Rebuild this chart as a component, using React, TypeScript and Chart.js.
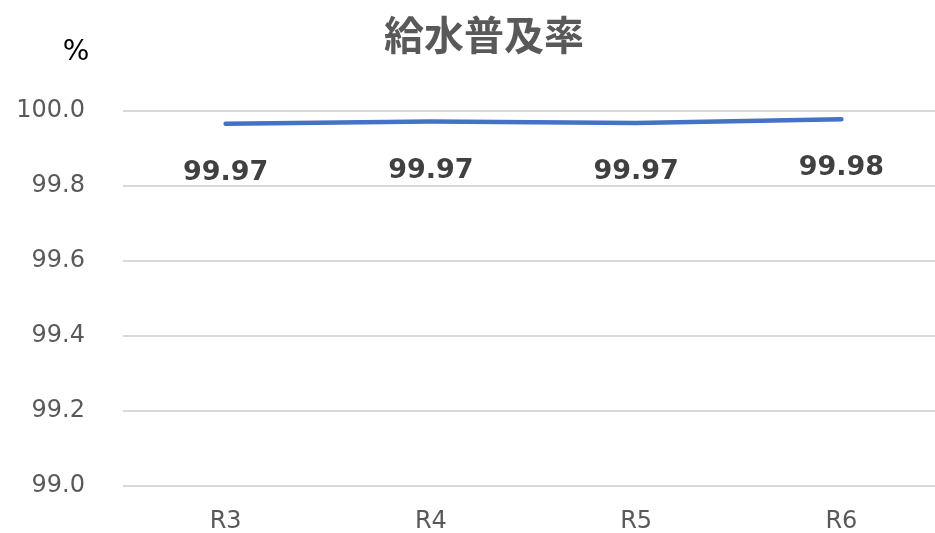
import React, { useEffect, useRef } from "react";
import { Chart, registerables } from "chart.js";

Chart.register(...registerables);

const categories = ["R3", "R4", "R5", "R6"];
const rates = [99.966, 99.972, 99.968, 99.978];
const yTicks = [99.0, 99.2, 99.4, 99.6, 99.8, 100.0];
const chartTitle = "給水普及率";
const unitLabel = "%";

const labelPlugin = {
  id: "valueLabels",
  afterDatasetsDraw(chart: any) {
    const ctx = chart.ctx;
    const meta = chart.getDatasetMeta(0);
    ctx.save();
    ctx.font = "bold 27px 'DejaVu Sans', sans-serif";
    ctx.fillStyle = "#404040";
    ctx.textAlign = "center";
    ctx.textBaseline = "middle";
    meta.data.forEach((pt: any, i: number) => {
      ctx.fillText(rates[i].toFixed(2), pt.x, pt.y + 49);
    });
    ctx.font = "28px 'DejaVu Sans', sans-serif";
    ctx.fillStyle = "#000000";
    ctx.fillText(unitLabel, 76, 53);
    ctx.font = "bold 40px 'Noto Sans CJK JP', sans-serif";
    ctx.fillStyle = "#595959";
    ctx.fillText(chartTitle, 484, 35);
    ctx.restore();
  },
};

export default function App() {
  const ref = useRef<HTMLCanvasElement | null>(null);
  useEffect(() => {
    document.body.style.margin = "0";
    if (!ref.current) return;
    const chart = new Chart(ref.current, {
      type: "line",
      data: {
        labels: categories,
        datasets: [
          {
            data: rates,
            borderColor: "#4472C4",
            borderWidth: 4.5,
            borderCapStyle: "round",
            pointRadius: 0,
            tension: 0,
          },
        ],
      },
      options: {
        animation: false,
        responsive: false,
        maintainAspectRatio: false,
        layout: { padding: { left: 0, right: 0, top: 111, bottom: 0 } },
        plugins: {
          legend: { display: false },
          tooltip: { enabled: false },
          title: { display: false },
        },
        scales: {
          x: {
            offset: true,
            grid: { display: false, drawTicks: false },
            border: { display: false },
            ticks: {
              color: "#595959",
              font: { family: "'DejaVu Sans', sans-serif", size: 24, lineHeight: 1 },
              padding: 24,
              maxRotation: 0,
            },
          },
          y: {
            min: 99,
            max: 100,
            afterBuildTicks: (scale: any) => {
              scale.ticks = yTicks.map((v) => ({ value: v }));
            },
            afterFit: (scale: any) => {
              scale.width = 123;
            },
            grid: { color: "#D9D9D9", lineWidth: 2, drawTicks: false },
            border: { display: false },
            ticks: {
              color: "#595959",
              font: { family: "'DejaVu Sans', sans-serif", size: 24 },
              padding: 38,
              callback: (v: any) => Number(v).toFixed(1),
            },
          },
        },
      },
      plugins: [labelPlugin],
    });
    return () => chart.destroy();
  }, []);
  return (
    <div style={{ width: 935, height: 533, overflow: "hidden", background: "#fff" }}>
      <canvas ref={ref} width={944} height={558} style={{ display: "block" }} />
    </div>
  );
}
